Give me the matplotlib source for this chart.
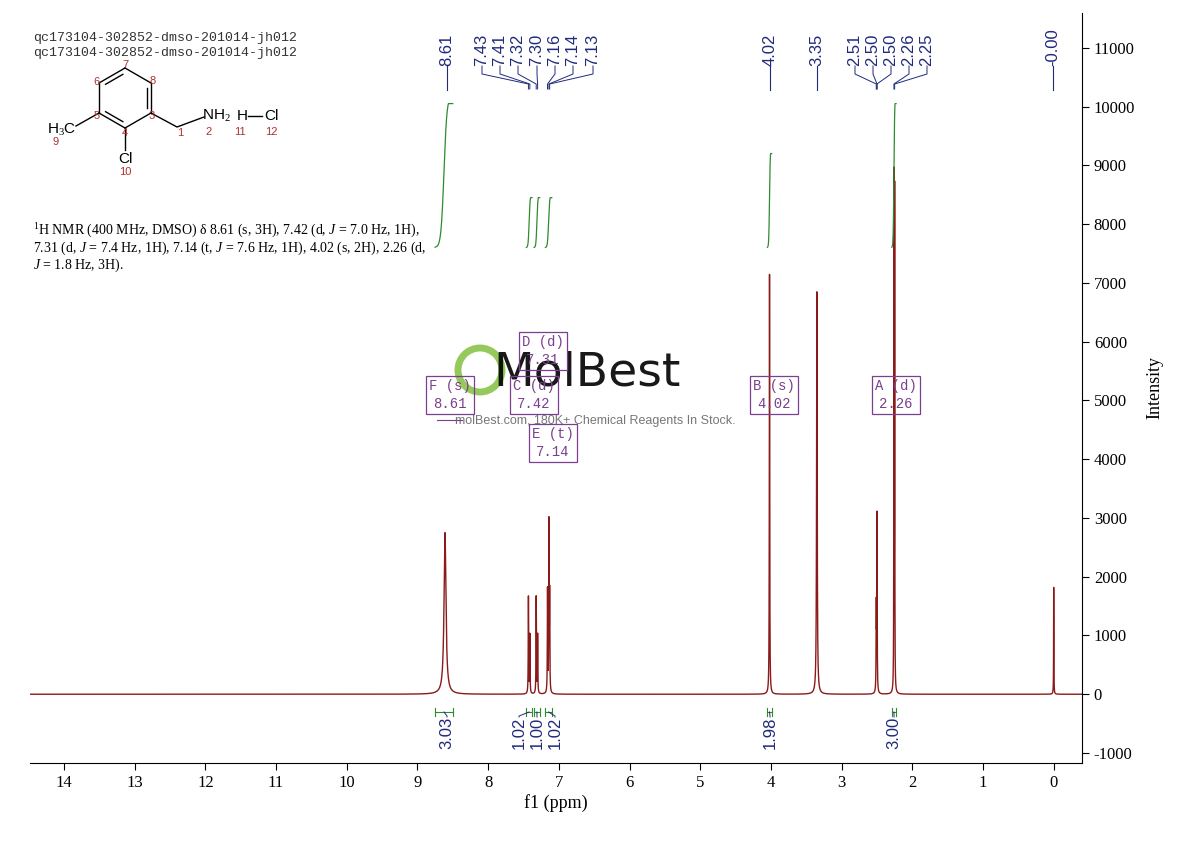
import numpy as np
import matplotlib
matplotlib.use("Agg")
import matplotlib.pyplot as plt
from matplotlib.transforms import blended_transform_factory as btf

# ---------------- data ----------------
peak_ppm = [8.61, 7.43, 7.41, 7.32, 7.30, 7.16, 7.14, 7.13, 4.02, 3.35, 2.51, 2.50, 2.26, 2.25, 0.00]
peak_height = [2750, 1650, 1000, 1650, 1000, 1750, 2850, 1600, 7150, 6850, 1400, 3000, 8650, 8400, 1820]
peak_hwhm = [0.016, 0.003, 0.003, 0.003, 0.003, 0.003, 0.003, 0.003, 0.003, 0.005, 0.003, 0.003, 0.002, 0.002, 0.002]

label_groups = [(["8.61"], [8.61]),
                (["7.43", "7.41", "7.32", "7.30", "7.16", "7.14", "7.13"], [7.43, 7.41, 7.32, 7.30, 7.16, 7.14, 7.13]),
                (["4.02"], [4.02]), (["3.35"], [3.35]),
                (["2.51", "2.50", "2.50", "2.26", "2.25"], [2.51, 2.50, 2.50, 2.26, 2.25]),
                (["-0.00"], [0.00])]
label_group_px = [[447], [482, 500, 518, 537, 555, 573, 593], [770], [817], [855, 873, 891, 909, 927], [1053]]

integ_values = ["3.03", "1.02", "1.00", "1.02", "1.98", "3.00"]
integ_lo = [8.50, 7.38, 7.27, 7.10, 3.99, 2.23]
integ_hi = [8.75, 7.46, 7.35, 7.19, 4.05, 2.29]
integ_top = [10050, 8450, 8450, 8450, 9200, 10050]
integ_label_px = [447, 519, 537, 555, 770, 894]

mult_boxes = [("F (s)\n8.61", 450, 395), ("C (d)\n7.42", 534, 395), ("D (d)\n7.31", 543, 351),
              ("E (t)\n7.14", 553, 443), ("B (s)\n4.02", 774, 395), ("A (d)\n2.26", 896, 395)]

yticks = list(range(-1000, 11001, 1000))
xticks = list(range(0, 15))

# ---------------- figure ----------------
plt.rcParams["mathtext.fontset"] = "custom"
plt.rcParams["mathtext.rm"] = "Liberation Serif"
plt.rcParams["mathtext.it"] = "Liberation Serif:italic"

fig = plt.figure(figsize=(11.90, 8.41), dpi=100)
ax = fig.add_axes([30/1190, 1-763/841, (1082-30)/1190, (763-12.5)/841])
over = fig.add_axes([0, 0, 1, 1], zorder=5)
over.set_xlim(0, 1190); over.set_ylim(841, 0); over.axis("off"); over.patch.set_alpha(0)

x = np.linspace(14.5, -0.4, 60000)
y = np.zeros_like(x)
for p, h, w in zip(peak_ppm, peak_height, peak_hwhm):
    y += h * w**2 / ((x - p)**2 + w**2)
ax.plot(x, y, color="#8B1A1A", lw=1.0)

ax.set_xlim(14.48, -0.40)
ax.set_ylim(-1170, 11600)
for s in ["top", "left"]:
    ax.spines[s].set_visible(False)
ax.yaxis.tick_right()
ax.set_yticks(yticks)
ax.set_xticks(xticks)
ax.set_yticklabels([str(v) for v in yticks], fontfamily="Liberation Serif", fontsize=12)
ax.set_xticklabels([str(v) for v in xticks], fontfamily="Liberation Serif", fontsize=12)
ax.tick_params(direction="out", length=5)
ax.set_xlabel("f1 (ppm)", fontfamily="Liberation Serif", fontsize=13, labelpad=2)
ax.yaxis.set_label_position("right")
ax.set_ylabel("Intensity", fontfamily="Liberation Serif", fontsize=13, labelpad=8)

# integral curves
green = "#2E8B2E"
for lo, hi, top in zip(integ_lo, integ_hi, integ_top):
    xs = np.linspace(hi, lo, 200)
    t = (hi - xs) / (hi - lo)
    ys = 7600 + (top - 7600) * (0.5 + 0.5 * np.tanh((t - 0.5) * 6)) / (0.5 + 0.5 * np.tanh(1.5))
    ax.plot(xs, np.clip(ys, 7600, top), color=green, lw=0.9)

navy = "#1F2A7A"
def to_px(ppm):
    return over.transData.inverted().transform(ax.transData.transform((ppm, 0)))[0]

# peak labels
for (labs, ppms), pxs in zip(label_groups, label_group_px):
    for lab, pp, px in zip(labs, ppms, pxs):
        over.text(px, 66, lab, rotation=90, ha="center", va="bottom", fontsize=12,
                  color=navy, fontfamily="Liberation Sans")
        if len(labs) == 1:
            over.plot([px, px], [66, 90], color=navy, lw=0.8)
        else:
            xo = to_px(pp)
            over.plot([px, px, xo, xo], [66, 74, 84, 89], color=navy, lw=0.7)

# integral labels and brackets
for val, lo, hi, px in zip(integ_values, integ_lo, integ_hi, integ_label_px):
    xl = to_px(hi); xh = to_px(lo)
    over.plot([xl, xh], [712, 712], color=green, lw=0.8)
    over.plot([xl, xl], [708, 716], color=green, lw=0.8)
    over.plot([xh, xh], [708, 716], color=green, lw=0.8)
    xm = (xl + xh) / 2
    over.plot([xm, px, px], [712, 716, 717], color=navy, lw=0.7)
    over.text(px, 717, val, rotation=90, ha="center", va="top", fontsize=12,
              color=navy, fontfamily="Liberation Sans")

# watermark (behind boxes)
over.add_patch(plt.Circle((480, 370), 22, fill=False, ec="#8BC34A", lw=5, alpha=0.9, zorder=1))
over.text(587, 373, "MolBest", ha="center", va="center", fontsize=34, color="black",
          fontfamily="DejaVu Sans", alpha=0.9, zorder=1)
over.text(595, 421, "molBest.com, 180K+ Chemical Reagents In Stock.", ha="center", va="center",
          fontsize=9, color="#777777", fontfamily="Liberation Sans", zorder=1)

# multiplet boxes
purple = "#7B3F8F"
for txt, cx, cy in mult_boxes:
    over.text(cx, cy, txt, ha="center", va="center", fontsize=10, color=purple,
              fontfamily="Liberation Mono", linespacing=1.3, zorder=3,
              bbox=dict(boxstyle="square,pad=0.25", fc="none", ec=purple, lw=0.9))
over.plot([437, 462], [420, 420], color=purple, lw=0.8)

# header text
for i, s in enumerate(["qc173104-302852-dmso-201014-jh012", "qc173104-302852-dmso-201014-jh012"]):
    over.text(33, 38 + 15 * i, s, fontsize=9.5, fontfamily="Liberation Mono", color="#333333", va="center")

# structure
V = {7: (125, 68), 8: (151, 83), 3: (151, 113), 4: (125, 128), 5: (99, 113), 6: (99, 83)}
ring = [7, 8, 3, 4, 5, 6, 7]
for a, b in zip(ring[:-1], ring[1:]):
    over.plot([V[a][0], V[b][0]], [V[a][1], V[b][1]], color="black", lw=1)
cx, cy = 125, 98
for a, b in [(6, 7), (8, 3), (4, 5)]:
    pa = np.array(V[a]); pb = np.array(V[b]); c = np.array([cx, cy])
    qa = pa + (c - pa) * 0.17; qb = pb + (c - pb) * 0.17
    d = qb - qa
    qa2 = qa + d * 0.1; qb2 = qb - d * 0.1
    over.plot([qa2[0], qb2[0]], [qa2[1], qb2[1]], color="black", lw=1)
over.plot([151, 177, 204], [113, 127, 117], color="black", lw=1)
over.plot([99, 76], [113, 126], color="black", lw=1)
over.plot([125, 125], [128, 150], color="black", lw=1)
over.plot([248, 262], [116, 116], color="black", lw=1)
over.text(216, 116, "NH$_2$", fontsize=11, ha="center", va="center", fontfamily="Liberation Sans")
over.text(242, 116, "H", fontsize=11, ha="center", va="center", fontfamily="Liberation Sans")
over.text(271, 116, "Cl", fontsize=11, ha="center", va="center", fontfamily="Liberation Sans")
over.text(62, 130, "H$_3$C", fontsize=11, ha="center", va="center", fontfamily="Liberation Sans")
over.text(125, 159, "Cl", fontsize=11, ha="center", va="center", fontfamily="Liberation Sans")
red = "#B03030"
for t, px, py in [("7", 125, 65), ("8", 153, 81), ("3", 152, 116), ("4", 125, 133), ("5", 97, 116),
                  ("6", 97, 82), ("1", 180, 133), ("2", 209, 132), ("11", 240, 132), ("12", 271, 132),
                  ("9", 56, 142), ("10", 125, 172)]:
    over.text(px, py, t, fontsize=8, color=red, ha="center", va="center", fontfamily="Liberation Sans")

# description text
desc = ["$^{1}$H NMR (400 MHz, DMSO) \u03b4 8.61 (s, 3H), 7.42 (d, $J$ = 7.0 Hz, 1H),",
        "7.31 (d, $J$ = 7.4 Hz, 1H), 7.14 (t, $J$ = 7.6 Hz, 1H), 4.02 (s, 2H), 2.26 (d,",
        "$J$ = 1.8 Hz, 3H)."]
for i, s in enumerate(desc):
    over.text(33, 231 + 17 * i, s, fontsize=10, fontfamily="Liberation Serif", va="center")

fig.savefig("out.png", dpi=100)
